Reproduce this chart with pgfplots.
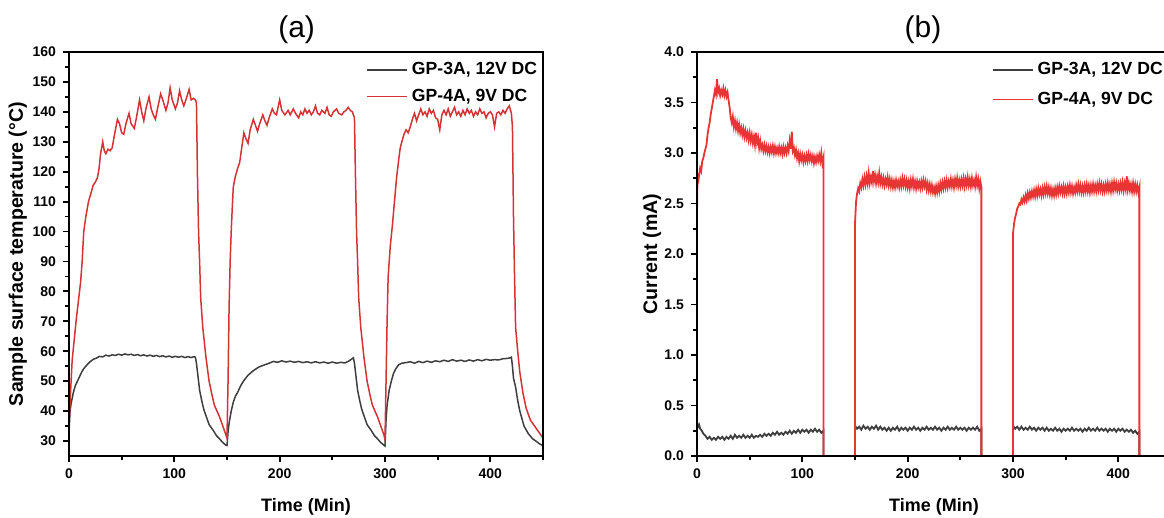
\documentclass[border=0pt]{standalone}
\usepackage{fontspec}
\setmainfont{Liberation Sans}
\usepackage{pgfplots}
\pgfplotsset{compat=1.18}

\definecolor{gpgray}{RGB}{62,62,62}
\definecolor{gpreda}{RGB}{212,50,52}
\definecolor{gpredb}{RGB}{232,52,52}

\pgfplotsset{
  panel/.style={
    scale only axis, width=237pt, height=202pt,
    anchor=south west, axis on top,
    axis line style={line width=1pt}, tick style={line width=0.9pt, black},
    tick align=outside, tick pos=left,
    major tick length=3pt, minor tick length=1.8pt,
    xmin=0, xmax=450, xtick={0,100,...,400}, minor xtick={50,150,...,450},
    /pgf/number format/assume math mode=true,
    ticklabel style={font=\bfseries\fontsize{7}{8}\selectfont},
    xlabel style={at={(axis description cs:0.5,-0.125)}, anchor=center,
      font=\bfseries\fontsize{9}{10}\selectfont},
    ylabel style={font=\bfseries\fontsize{9.8}{11}\selectfont},
    legend style={draw=none, fill=none, inner sep=0pt, row sep=1.5pt,
      font=\bfseries\fontsize{8.8}{9.5}\selectfont},
    legend cell align=left,
    legend image code/.code={\draw[#1, line width=0.7pt] (0pt,0pt) -- (20pt,0pt);},
  }
}

\begin{document}
\begin{tikzpicture}
\useasboundingbox (0,0) rectangle (582pt,259pt);

% (a) temperature
\begin{axis}[panel, at={(34.5pt,31pt)},
  ymin=25, ymax=160, ytick={30,40,...,160}, minor ytick={35,45,...,155},
  xlabel={Time (Min)}, ylabel={Sample surface temperature (°C)},
  ylabel style={at={(axis description cs:-0.108,0.5)}, anchor=center},
  legend style={at={(axis description cs:0.627,0.985)}, anchor=north west},
]
% GP-3A, 12V DC
\addplot[gpgray, line width=0.75pt] coordinates {
(0,33) (1,40) (2,42.5) (4,46) (6,48.5) (8,50) (10,51.5) (12,53) (14,54.2) (16,55) (18,55.8) (20,56.5) (23,57.3) (26,57.7)
(29,58.3) (32,58.1) (35,58.7) (38,58.4) (41,58.8) (44,58.6) (47,59) (50,58.7) (53,59.1) (56,58.8) (59,59) (62,58.6)
(65,58.9) (68,58.5) (71,58.8) (74,58.4) (77,58.7) (80,58.3) (83,58.6) (86,58.2) (89,58.5) (92,58.1) (95,58.4) (98,58)
(101,58.3) (104,58) (107,58.3) (110,57.9) (113,58.2) (116,57.9) (119,58.2) (120,58) (121,56) (122.5,51.5) (124,47)
(126,43.5) (128,40.5) (130.5,38) (133,35.5) (137,33.5) (140,31.8) (143,30.7) (146,29.5) (149,28.6) (150,28.5)
(151,33) (152,36) (154,40) (156,43) (158,45) (160,46.2) (163,48.5) (166,50.2) (170,52) (175,53.5) (180,54.7)
(186,55.5) (190,56) (194,56.6) (198,56.3) (202,56.8) (206,56.4) (210,56.7) (214,56.3) (218,56.6) (222,56.2)
(226,56.5) (230,56.1) (234,56.5) (238,56.1) (242,56.4) (246,56) (250,56.4) (254,56) (258,56.3) (262,56.1)
(265,56.6) (268,57.3) (270,57.8) (271,56) (272.5,51.5) (274,47) (276,43.5) (278,40.5) (280.5,38) (283,35.5)
(287,33.5) (290,31.8) (293,30.7) (296,29.5) (299,28.6) (300,28.3) (301,37) (302,42) (304,47) (306,50) (308,52.5)
(310,54) (313,55.5) (316,56) (320,56.2) (324,56.5) (328,56) (332,56.6) (336,56.2) (340,56.7) (344,56.3) (348,56.8)
(352,56.5) (356,57) (360,56.6) (364,57.2) (368,56.7) (372,57) (376,56.6) (380,57.1) (384,56.7) (388,57.2)
(392,56.8) (396,57.3) (400,57) (404,57.2) (408,57.1) (412,57.5) (416,57.6) (419,57.8) (420,58) (421,55)
(422,51) (424,48) (426,43.5) (428,40) (430,37.5) (432,35) (436,32.5) (440,30.8) (444,29.8) (447,29) (450,28.5)
};
\addlegendentry{GP-3A, 12V DC}
% GP-4A, 9V DC
\addplot[gpreda, line width=0.75pt] coordinates {
(0,35) (1,43) (2,50) (3,57) (5,64) (7,71) (9,77) (11,83) (12.5,90) (14,100) (16,105) (18.5,110) (21,113)
(23,115.5) (25,116.5) (27,118) (28.5,121) (30,126) (32,130) (33.5,127) (35,126) (37,127.5) (39,127) (41,128)
(43,132) (46,137.5) (48,136) (50,133) (52,132.5) (54,136) (57,139.5) (59,136) (62,134.5) (64,138) (67,144)
(69,140) (71,137) (73,141) (76,145) (78,141) (80,139) (82,137.5) (84,141) (87,146) (89,144) (92,140.5)
(94,143) (96,148) (98,144) (101,141) (103,143) (105,147) (107,144) (109,142) (111,144) (114,147.5) (116,144)
(118,144.5) (120,144) (121,143) (122,118) (123,100) (124,90) (125,78) (127,68) (130,58) (133,50) (136,45)
(138,42) (143,38) (147,34) (149,32) (150,31) (151,50) (152,75) (153,90) (154,100) (155,108) (156,115)
(158,118.5) (160,121) (162,123) (164,128) (166,133) (168,131) (170,129.5) (172,134) (175,137.5) (177,135.5)
(179,133.5) (181,136) (184,139) (186,137) (188,135.5) (190,138) (193,141) (195,139.5) (197,139) (200,144)
(202,140.5) (205,139) (208,140.5) (210,139) (213,141) (215,139.5) (218,138) (220,140) (222,139) (224,141)
(226,139.5) (228,140.5) (230,139) (232,140) (234,142) (236,139.5) (238,139) (240,140.5) (243,139.5)
(245,141.5) (247,139) (249,138.5) (251,140) (254,141) (256,139.5) (259,139) (261,140) (263,140.5) (265,141.5)
(267,140.5) (269,140) (270,139) (271,138) (272,118) (273,100) (274,90) (275,78) (277,68) (280,58) (283,50)
(286,45) (288,42) (293,38) (297,34) (299,32) (300,30.5) (301,50) (302,70) (303,85) (305,95) (307,102)
(309,110) (311,118) (313,124) (314.5,128) (316,130) (318,132.5) (320,134) (322,133) (324,135) (326,137.5)
(328,139.5) (330,137) (332,139) (334,141) (336,139) (338,140) (340,138.5) (342,141) (344,139.5) (346,140.5)
(348,138) (350,137.5) (352,134) (354,139) (356,140.5) (358,139) (360,141) (362,138.5) (364,140) (366,141.5)
(368,139) (370,140) (372,138.5) (374,140.5) (376,139) (378,141) (380,139.5) (382,140.5) (384,138.5) (386,140)
(388,139) (390,141) (392,139.5) (394,140) (396,138) (398,139.5) (400,140) (402,139) (404,135) (406,139.5)
(408,140) (410,139) (412,140.5) (414,139.5) (416,141) (418,142) (420,139.5) (421,135) (422,105) (423,85)
(424,68) (426,60) (428,53) (431,46) (434,41) (438,37) (442,35) (446,33) (450,31)
};
\addlegendentry{GP-4A, 9V DC}
\end{axis}

% (b) current
\begin{axis}[panel, at={(348.5pt,31pt)},
  ymin=0, ymax=4, ytick={0,0.5,...,4}, minor ytick={0.25,0.75,...,3.75},
  yticklabel style={/pgf/number format/.cd, fixed, fixed zerofill, precision=1},
  xlabel={Time (Min)}, ylabel={Current (mA)},
  ylabel style={at={(axis description cs:-0.095,0.5)}, anchor=center},
  legend style={at={(axis description cs:0.622,0.985)}, anchor=north west, row sep=3pt},
]
% GP-3A, 12V DC
\addplot[gpgray, line width=0.9pt] coordinates {
(0,0) (0,0.33) (1,0.29) (2,0.31) (3,0.27) (4,0.26) (6,0.22) (8,0.2) (10,0.17) (12,0.19) (14,0.16) (16,0.18)
(18,0.16) (20,0.19) (22,0.17) (24,0.19) (26,0.16) (28,0.19) (30,0.17) (32,0.2) (34,0.17) (36,0.21) (38,0.18)
(40,0.2) (42,0.18) (44,0.21) (46,0.18) (48,0.2) (50,0.18) (52,0.21) (54,0.18) (56,0.2) (58,0.19) (60,0.21)
(62,0.19) (64,0.22) (66,0.2) (68,0.22) (70,0.2) (72,0.23) (74,0.21) (76,0.24) (78,0.21) (80,0.23) (82,0.21)
(84,0.24) (86,0.22) (88,0.25) (90,0.22) (92,0.25) (94,0.23) (96,0.26) (98,0.23) (100,0.26) (102,0.24)
(104,0.26) (106,0.23) (108,0.26) (110,0.24) (112,0.27) (114,0.24) (116,0.26) (118,0.23) (120,0.25) (120,0)
(150,0) (150,0.3) (152,0.27) (154,0.29) (156,0.26) (158,0.3) (160,0.27) (162,0.29) (164,0.26) (166,0.29)
(168,0.27) (170,0.3) (172,0.26) (174,0.29) (176,0.26) (178,0.28) (180,0.25) (182,0.28) (184,0.25) (186,0.28)
(188,0.26) (190,0.29) (192,0.25) (194,0.28) (196,0.26) (198,0.28) (200,0.25) (202,0.28) (204,0.26) (206,0.29)
(208,0.26) (210,0.28) (212,0.25) (214,0.28) (216,0.26) (218,0.29) (220,0.26) (222,0.28) (224,0.26) (226,0.29)
(228,0.26) (230,0.28) (232,0.25) (234,0.28) (236,0.26) (238,0.29) (240,0.26) (242,0.28) (244,0.26) (246,0.29)
(248,0.26) (250,0.28) (252,0.26) (254,0.28) (256,0.25) (258,0.28) (260,0.26) (262,0.28) (264,0.26) (266,0.29)
(268,0.25) (270,0.27) (270,0) (300,0) (300,0.3) (302,0.27) (304,0.29) (306,0.26) (308,0.29) (310,0.26)
(312,0.28) (314,0.26) (316,0.29) (318,0.26) (320,0.28) (322,0.25) (324,0.28) (326,0.26) (328,0.28) (330,0.25)
(332,0.28) (334,0.25) (336,0.27) (338,0.25) (340,0.28) (342,0.25) (344,0.27) (346,0.24) (348,0.27) (350,0.25)
(352,0.27) (354,0.25) (356,0.28) (358,0.25) (360,0.27) (362,0.25) (364,0.27) (366,0.24) (368,0.27) (370,0.25)
(372,0.28) (374,0.25) (376,0.27) (378,0.25) (380,0.28) (382,0.25) (384,0.27) (386,0.25) (388,0.27) (390,0.24)
(392,0.27) (394,0.25) (396,0.27) (398,0.24) (400,0.27) (402,0.25) (404,0.27) (406,0.24) (408,0.26) (410,0.24)
(412,0.26) (414,0.23) (416,0.25) (418,0.22) (420,0.24) (420,0) (450,0)
};
\addlegendentry{GP-3A, 12V DC}
% GP-4A, 9V DC
\addplot[gpredb, line width=0.9pt] coordinates {
(0,0) (0,2.4) (0.5,2.8) (1,2.7) (2,2.78) (3,2.85) (4,2.82) (5,2.92) (6,2.95) (7,3.0) (8,3.04) (9,3.08)
(10,3.18) (11,3.25) (12,3.3) (13,3.38) (14,3.44) (15,3.5) (16,3.56) (17,3.62) (18,3.58) (19,3.73) (20,3.6)
(21,3.64) (22,3.57) (23,3.62) (24,3.58) (25,3.64) (26,3.57) (27,3.62) (28,3.56) (29,3.6) (30,3.52) (31,3.45)
(32,3.35) (33,3.3) (34,3.36) (35,3.26) (36,3.32) (37,3.24) (38,3.3) (39,3.22) (40,3.28) (41,3.2) (42,3.25)
(43,3.18) (44,3.24) (45,3.16) (46,3.22) (47,3.15) (48,3.2) (49,3.13) (50,3.2) (51,3.12) (52,3.18) (53,3.1)
(54,3.16) (55,3.08) (56,3.2) (57,3.1) (58,3.15) (59,3.05) (60,3.12) (61,3.04) (62,3.08) (63,3.02) (64,3.08)
(65,3.02) (66,3.07) (67,3.01) (68,3.06) (69,3.0) (70,3.06) (71,3.01) (72,3.07) (73,3.0) (74,3.06) (75,3.0)
(76,3.05) (77,3.0) (78,3.06) (79,3.0) (80,3.05) (81,2.99) (82,3.06) (83,3.0) (84,3.05) (85,3.0) (86,3.07)
(87,3.02) (88,3.12) (89,3.04) (90,3.21) (91,3.02) (92,3.05) (93,2.98) (94,3.03) (95,2.95) (96,3.0) (97,2.92)
(98,2.99) (99,2.93) (100,2.98) (101,2.91) (102,2.97) (103,2.92) (104,2.98) (105,2.92) (106,2.99) (107,2.93)
(108,2.98) (109,2.92) (110,2.97) (111,2.9) (112,2.96) (113,2.91) (114,2.97) (115,2.92) (116,2.98) (117,2.92)
(118,3.0) (119,2.9) (120,2.95) (120,0) (150,0)
(150,2.3) (151,2.52) (152,2.6) (153,2.65) (154,2.62) (155,2.7) (156,2.66) (157,2.74) (158,2.68) (159,2.76)
(160,2.69) (161,2.77) (162,2.7) (163,2.8) (164,2.7) (165,2.76) (166,2.71) (167,2.82) (168,2.72) (169,2.78)
(170,2.7) (171,2.77) (172,2.71) (173,2.8) (174,2.7) (175,2.76) (176,2.69) (177,2.75) (178,2.68) (179,2.74)
(180,2.69) (181,2.76) (182,2.68) (183,2.74) (184,2.67) (185,2.73) (186,2.66) (187,2.72) (188,2.66) (189,2.73)
(190,2.67) (191,2.72) (192,2.66) (193,2.73) (194,2.67) (195,2.75) (196,2.68) (197,2.74) (198,2.67) (199,2.73)
(200,2.66) (201,2.72) (202,2.65) (203,2.73) (204,2.67) (205,2.74) (206,2.66) (207,2.72) (208,2.65) (209,2.72)
(210,2.66) (211,2.71) (212,2.65) (213,2.72) (214,2.66) (215,2.73) (216,2.67) (217,2.72) (218,2.64) (219,2.7)
(220,2.63) (221,2.69) (222,2.62) (223,2.68) (224,2.61) (225,2.66) (226,2.6) (227,2.67) (228,2.61) (229,2.68)
(230,2.62) (231,2.7) (232,2.64) (233,2.71) (234,2.65) (235,2.72) (236,2.66) (237,2.73) (238,2.66) (239,2.72)
(240,2.67) (241,2.74) (242,2.67) (243,2.73) (244,2.66) (245,2.74) (246,2.68) (247,2.75) (248,2.67) (249,2.73)
(250,2.67) (251,2.74) (252,2.68) (253,2.75) (254,2.67) (255,2.74) (256,2.68) (257,2.76) (258,2.68) (259,2.74)
(260,2.67) (261,2.75) (262,2.68) (263,2.73) (264,2.67) (265,2.76) (266,2.68) (267,2.74) (268,2.65) (269,2.72)
(270,2.66) (270,0) (300,0)
(300,2.2) (301,2.3) (302,2.36) (303,2.4) (304,2.45) (305,2.47) (306,2.5) (307,2.49) (308,2.54) (309,2.51)
(310,2.56) (311,2.52) (312,2.58) (313,2.53) (314,2.6) (315,2.55) (316,2.61) (317,2.56) (318,2.62) (319,2.57)
(320,2.63) (321,2.57) (322,2.64) (323,2.58) (324,2.65) (325,2.59) (326,2.64) (327,2.58) (328,2.65) (329,2.59)
(330,2.66) (331,2.6) (332,2.67) (333,2.6) (334,2.66) (335,2.59) (336,2.65) (337,2.58) (338,2.64) (339,2.58)
(340,2.65) (341,2.59) (342,2.66) (343,2.6) (344,2.67) (345,2.61) (346,2.66) (347,2.6) (348,2.67) (349,2.6)
(350,2.66) (351,2.6) (352,2.67) (353,2.61) (354,2.68) (355,2.61) (356,2.67) (357,2.6) (358,2.66) (359,2.61)
(360,2.68) (361,2.62) (362,2.69) (363,2.62) (364,2.68) (365,2.61) (366,2.67) (367,2.61) (368,2.68) (369,2.62)
(370,2.69) (371,2.62) (372,2.68) (373,2.61) (374,2.68) (375,2.62) (376,2.69) (377,2.62) (378,2.68) (379,2.62)
(380,2.69) (381,2.63) (382,2.7) (383,2.63) (384,2.69) (385,2.62) (386,2.68) (387,2.62) (388,2.69) (389,2.63)
(390,2.7) (391,2.63) (392,2.69) (393,2.62) (394,2.7) (395,2.63) (396,2.71) (397,2.64) (398,2.7) (399,2.63)
(400,2.69) (401,2.63) (402,2.7) (403,2.64) (404,2.71) (405,2.63) (406,2.7) (407,2.64) (408,2.77) (409,2.64)
(410,2.7) (411,2.63) (412,2.69) (413,2.62) (414,2.7) (415,2.62) (416,2.69) (417,2.62) (418,2.68) (419,2.61)
(420,2.66) (420,0) (450,0)
};
\addlegendentry{GP-4A, 9V DC}
\end{axis}

\node[font=\fontsize{15}{17}\selectfont] at (148.3pt,244pt) {(a)};
\node[font=\fontsize{15}{17}\selectfont] at (461.5pt,244pt) {(b)};
\end{tikzpicture}
\end{document}
